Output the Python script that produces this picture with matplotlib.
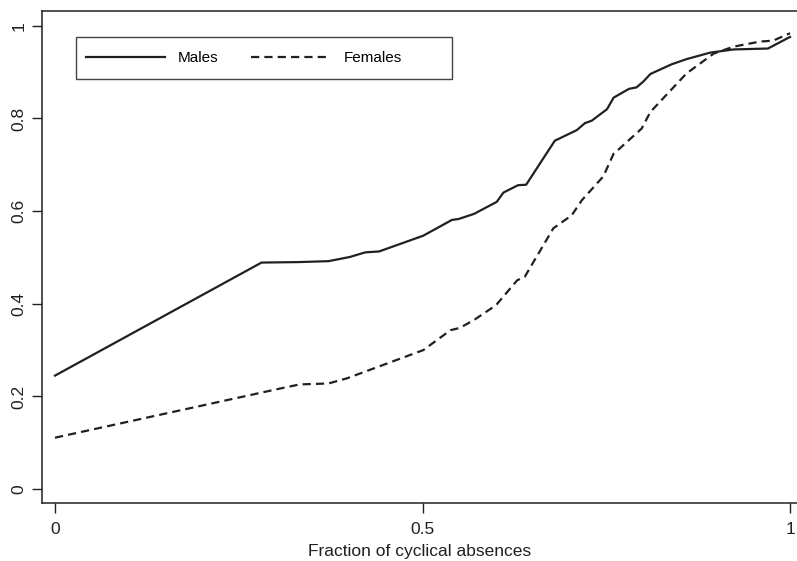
import numpy as np
import matplotlib as mpl, matplotlib.pyplot as plt
from matplotlib.patches import Rectangle

# ---- data ----
males_x = [0.0, 0.281, 0.331, 0.372, 0.401, 0.422, 0.441, 0.501, 0.540, 0.549, 0.570, 0.601,
           0.610, 0.630, 0.641, 0.680, 0.710, 0.721, 0.730, 0.751, 0.760, 0.781, 0.791, 0.800,
           0.810, 0.839, 0.859, 0.891, 0.923, 0.970, 1.0]
males_y = [0.245, 0.489, 0.490, 0.492, 0.501, 0.511, 0.513, 0.547, 0.581, 0.583, 0.594, 0.620,
           0.640, 0.656, 0.657, 0.752, 0.775, 0.790, 0.795, 0.820, 0.845, 0.864, 0.867, 0.879,
           0.896, 0.917, 0.928, 0.942, 0.949, 0.951, 0.976]
females_x = [0.0, 0.306, 0.333, 0.372, 0.397, 0.501, 0.538, 0.551, 0.571, 0.600, 0.629, 0.639,
             0.678, 0.703, 0.717, 0.746, 0.760, 0.766, 0.798, 0.810, 0.859, 0.896, 0.923,
             0.959, 0.977, 1.0]
females_y = [0.111, 0.217, 0.226, 0.228, 0.239, 0.300, 0.343, 0.348, 0.366, 0.397, 0.451, 0.458,
             0.563, 0.591, 0.624, 0.675, 0.724, 0.732, 0.778, 0.814, 0.897, 0.940, 0.955,
             0.966, 0.968, 0.984]
xticks = [0, 0.5, 1]
xticklabels = ["0", "0.5", "1"]
yticks = [0, 0.2, 0.4, 0.6, 0.8, 1]
yticklabels = ["0", "0.2", "0.4", "0.6", "0.8", "1"]

mpl.rcParams.update({"font.family": "sans-serif",
                     "font.sans-serif": ["Liberation Sans", "DejaVu Sans"],
                     "font.size": 12.5})
ink = "#231f20"

fig = plt.figure(figsize=(7.97, 5.61), dpi=100)
ax = fig.add_axes([42/797, 1-503/561, 755/797, 492/561])

ax.plot(males_x, males_y, color=ink, lw=1.6, solid_joinstyle="round", label="Males")
ax.plot(females_x, females_y, color=ink, lw=1.6, ls=(0, (3.7, 2.3)), label="Females")

ax.set_xlim(-0.0177, 1.0095)
ax.set_ylim(-0.030, 1.032)
ax.set_xticks(xticks); ax.set_xticklabels(xticklabels)
ax.set_yticks(yticks); ax.set_yticklabels(yticklabels, rotation=90, va="center")
ax.tick_params(direction="out", length=7, width=1.0, color=ink, labelcolor=ink, pad=4)
ax.tick_params(axis="x", pad=7)
for s in ["left", "top", "bottom"]:
    ax.spines[s].set_linewidth(1.1); ax.spines[s].set_color(ink)
ax.spines["right"].set_visible(False)
ax.set_xlabel("Fraction of cyclical absences", fontsize=12.5, color=ink, labelpad=5)

# legend: frameless entries plus a wide box as in the original
ax.add_patch(Rectangle((0.045, 0.861), 0.498, 0.087, transform=ax.transAxes, fill=False,
                       ec="#444444", lw=1.0, zorder=5))
ax.legend(loc="center left", bbox_to_anchor=(0.058, 0.9045), ncol=2, frameon=False,
          handlelength=5.2, handletextpad=0.85, columnspacing=2.1, borderpad=0,
          borderaxespad=0, fontsize=11)

fig.savefig("out.png", dpi=100)
